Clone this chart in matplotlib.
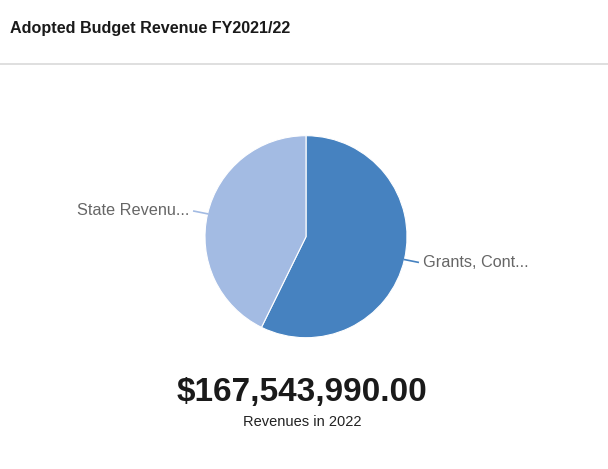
import numpy as np
import matplotlib.pyplot as plt
from matplotlib.lines import Line2D

plt.rcParams['font.family'] = ['Liberation Sans', 'DejaVu Sans']

# revenue sources
sources = ["Grants, Cont...", "State Revenu..."]
amounts = [95950000, 71593990]
colors = ["#4682c0", "#a3bbe3"]
total_label = "$167,543,990.00"
sub_label = "Revenues in 2022"

W, H = 608, 469
fig = plt.figure(figsize=(W / 100, H / 100), dpi=100)

fig.text(10 / W, 1 - 28 / H, "Adopted Budget Revenue FY2021/22", fontsize=11.6,
         fontweight="bold", color="#1a1a1a", va="center", ha="left")
fig.add_artist(Line2D([0, 1], [1 - 64 / H, 1 - 64 / H], color="#d9d9d9", lw=1.2))

cx, cy, r = 306, 236.7, 101
ax = fig.add_axes([(cx - r) / W, 1 - (cy + r) / H, 2 * r / W, 2 * r / H])
wedges, _ = ax.pie(amounts, colors=colors, startangle=90, counterclock=False,
                   wedgeprops=dict(edgecolor="white", linewidth=0.8))
ax.set_xlim(-1, 1)
ax.set_ylim(-1, 1)
ax.set_aspect("auto")
ax.axis("off")

for w, name in zip(wedges, sources):
    ang = np.deg2rad((w.theta1 + w.theta2) / 2)
    x, y = np.cos(ang), np.sin(ang)
    ax.plot([x, x * 1.14], [y, y * 1.12], color=w.get_facecolor(),
            lw=1.2, clip_on=False)
    ax.text(x * 1.19, y * 1.15, name, ha="left" if x > 0 else "right", va="center",
            fontsize=11.7, color="#666666", clip_on=False)

# total under the pie
fig.text(302 / W, 1 - 392 / H, total_label, fontsize=24, fontweight="bold",
         color="#1a1a1a", ha="center", va="center")
fig.text(302 / W, 1 - 422 / H, sub_label, fontsize=10.5, color="#222222",
         ha="center", va="center")

fig.savefig("out.png", dpi=100)
